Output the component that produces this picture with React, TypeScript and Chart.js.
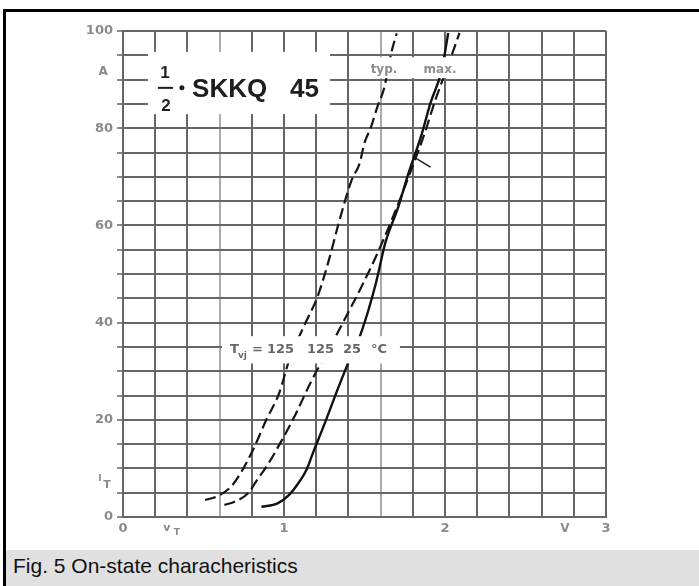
import React, { useEffect, useRef } from 'react';
import { Chart, registerables } from 'chart.js';

Chart.register(...registerables);

// On-state voltage v_T (V) and on-state current I_T (A)
const typ125V = [0.51, 0.58, 0.67, 0.73, 0.81, 0.89, 0.97, 1.03, 1.12, 1.21, 1.28, 1.34, 1.42, 1.47, 1.50, 1.54, 1.58, 1.62, 1.67, 1.70];
const typ125I = [3.5, 4.2, 6.2, 9.0, 14.0, 20.0, 25.5, 32.0, 39.0, 45.5, 53.0, 60.5, 69.3, 72.8, 77.0, 80.2, 84.4, 88.0, 96.0, 99.5];

const max125V = [0.63, 0.69, 0.78, 0.83, 0.89, 0.98, 1.07, 1.17, 1.27, 1.35, 1.48, 1.57, 1.68, 1.79, 1.87, 1.94, 2.02, 2.09];
const max125I = [2.5, 3.1, 5.0, 7.5, 10.3, 15.4, 21.0, 28.0, 34.0, 39.0, 47.3, 53.5, 62.0, 71.4, 78.6, 85.8, 93.0, 99.6];

const max25V = [0.86, 0.96, 1.03, 1.09, 1.14, 1.18, 1.25, 1.33, 1.39, 1.48, 1.57, 1.63, 1.71, 1.77, 1.85, 1.91, 1.98, 2.02];
const max25I = [2.1, 2.8, 4.5, 7.0, 9.7, 13.2, 19.0, 26.0, 31.0, 38.0, 48.0, 56.5, 63.8, 70.4, 78.2, 85.2, 92.0, 99.6];

const pointerV = [1.81, 1.91];
const pointerI = [74.0, 72.0];

const xLabelValues = [0, 1, 2, 3];
const xLabelTexts = ['0', '1', '2', '3'];
const yLabelValues = [0, 20, 40, 60, 80, 100];
const yLabelTexts = ['0', '20', '40', '60', '80', '100'];
const lightXGrid = [0.6, 1.6];

const toPoints = (xs: number[], ys: number[]) => xs.map((v, i) => ({ x: v, y: ys[i] }));
const labelFor = (vals: number[], texts: string[], v: number) => {
  const k = vals.findIndex((q) => Math.abs(q - v) < 1e-6);
  return k >= 0 ? texts[k] : '';
};

const GRID = '#666666';
const LABEL = '#8a8a8a';

const annotations = {
  id: 'annotations',
  afterDatasetsDraw(chart: any) {
    const { ctx } = chart;
    const xs = chart.scales.x;
    const ys = chart.scales.y;
    const px = (v: number) => xs.getPixelForValue(v);
    const py = (i: number) => ys.getPixelForValue(i);
    const box = (v1: number, i1: number, v2: number, i2: number) => {
      ctx.fillStyle = '#ffffff';
      ctx.fillRect(px(v1), py(i1), px(v2) - px(v1), py(i2) - py(i1));
    };
    const text = (s: string, v: number, i: number, font: string, color: string, align: CanvasTextAlign = 'left') => {
      ctx.font = font;
      ctx.fillStyle = color;
      ctx.textAlign = align;
      ctx.textBaseline = 'alphabetic';
      ctx.fillText(s, px(v), py(i));
    };
    ctx.save();
    // white label boxes
    box(0.155, 95.7, 1.286, 82.9);
    box(1.491, 94.6, 2.106, 90.3);
    box(0.615, 37.2, 1.72, 31.6);

    // title 1/2 · SKKQ 45
    const dark = '#1e1e1e';
    text('1', 0.261, 90.3, 'bold 17px "Liberation Sans", Arial, sans-serif', dark, 'center');
    ctx.strokeStyle = dark;
    ctx.lineWidth = 2;
    ctx.beginPath();
    ctx.moveTo(px(0.217), py(88.3));
    ctx.lineTo(px(0.311), py(88.3));
    ctx.stroke();
    text('2', 0.267, 83.5, 'bold 17px "Liberation Sans", Arial, sans-serif', dark, 'center');
    ctx.fillStyle = dark;
    ctx.beginPath();
    ctx.arc(px(0.366), py(88.3), 2.5, 0, Math.PI * 2);
    ctx.fill();
    text('SKKQ', 0.429, 86.4, 'bold 26px "Liberation Sans", Arial, sans-serif', dark);
    text('45', 1.037, 86.4, 'bold 26px "Liberation Sans", Arial, sans-serif', dark);

    // typ. / max.
    text('typ.', 1.621, 91.4, 'bold 12px "DejaVu Sans", sans-serif', '#8c8c8c', 'center');
    text('max.', 1.969, 91.4, 'bold 12px "DejaVu Sans", sans-serif', '#8c8c8c', 'center');

    // T_vj = 125 125 25 °C
    const tcol = '#676767';
    const tf = 'bold 13px "DejaVu Sans", sans-serif';
    text('T', 0.665, 33.7, tf, tcol);
    text('vj', 0.714, 32.7, 'bold 9px "DejaVu Sans", sans-serif', tcol);
    text('=', 0.801, 33.7, tf, tcol);
    text('125', 0.894, 33.7, tf, tcol);
    text('125', 1.143, 33.7, tf, tcol);
    text('25', 1.366, 33.7, tf, tcol);
    text('°C', 1.54, 33.7, tf, tcol);

    // axis units / symbols
    const af = 'bold 12px "DejaVu Sans", sans-serif';
    text('A', -0.124, 90.9, af, LABEL, 'center');
    text('I', -0.143, 7.4, 'bold 9px "DejaVu Sans", sans-serif', LABEL, 'center');
    text('T', -0.099, 6.0, 'bold 11px "DejaVu Sans", sans-serif', LABEL, 'center');
    text('v', 0.273, -2.9, 'bold 11px "DejaVu Sans", sans-serif', LABEL, 'center');
    text('T', 0.335, -3.7, 'bold 9px "DejaVu Sans", sans-serif', LABEL, 'center');
    text('V', 2.745, -3.1, af, LABEL, 'center');
    ctx.restore();
  },
};

export default function App() {
  const ref = useRef<HTMLCanvasElement | null>(null);

  useEffect(() => {
    if (!ref.current) return;
    const tickFont = { family: '"DejaVu Sans", sans-serif', size: 13, weight: 'bold' as const };
    const chart = new Chart(ref.current, {
      type: 'line',
      data: {
        datasets: [
          {
            label: 'typ. 125 °C',
            data: toPoints(typ125V, typ125I),
            borderColor: '#151515',
            borderWidth: 2.2,
            borderDash: [11, 5],
            cubicInterpolationMode: 'monotone',
            pointRadius: 0,
          },
          {
            label: 'max. 125 °C',
            data: toPoints(max125V, max125I),
            borderColor: '#151515',
            borderWidth: 2.2,
            borderDash: [11, 5],
            cubicInterpolationMode: 'monotone',
            pointRadius: 0,
          },
          {
            label: 'max. 25 °C',
            data: toPoints(max25V, max25I),
            borderColor: '#111111',
            borderWidth: 2.4,
            cubicInterpolationMode: 'monotone',
            pointRadius: 0,
          },
          {
            label: 'pointer',
            data: toPoints(pointerV, pointerI),
            borderColor: '#222222',
            borderWidth: 1.6,
            pointRadius: 0,
          },
        ],
      },
      options: {
        animation: false,
        responsive: false,
        maintainAspectRatio: false,
        layout: { padding: { top: 19, right: 93, left: 0, bottom: 0 } },
        plugins: { legend: { display: false }, tooltip: { enabled: false } },
        elements: { point: { radius: 0 } },
        scales: {
          x: {
            type: 'linear',
            min: 0,
            max: 3,
            afterFit: (s: any) => {
              s.height = 33;
            },
            ticks: {
              stepSize: 0.2,
              autoSkip: false,
              maxRotation: 0,
              padding: 4,
              color: LABEL,
              font: tickFont,
              callback: (v: any) => labelFor(xLabelValues, xLabelTexts, Number(v)),
            },
            grid: {
              color: (c: any) =>
                c.tick && lightXGrid.some((q) => Math.abs(q - c.tick.value) < 1e-6) ? '#ababab' : GRID,
              lineWidth: 2,
              drawTicks: false,
            },
            border: { color: GRID, width: 2 },
          },
          y: {
            type: 'linear',
            min: 0,
            max: 100,
            afterFit: (s: any) => {
              s.width = 117;
            },
            ticks: {
              stepSize: 5,
              autoSkip: false,
              padding: 4,
              color: LABEL,
              font: tickFont,
              callback: (v: any) => labelFor(yLabelValues, yLabelTexts, Number(v)),
            },
            grid: {
              color: GRID,
              lineWidth: 2,
              drawTicks: true,
              tickLength: 6,
              tickColor: '#8a8a8a',
              tickWidth: 2,
            },
            border: { color: GRID, width: 2 },
          },
        },
      },
      plugins: [annotations],
    } as any);
    return () => chart.destroy();
  }, []);

  return (
    <div
      style={{
        position: 'fixed',
        left: 0,
        top: 0,
        width: 699,
        height: 586,
        background: '#ffffff',
        overflow: 'hidden',
      }}
    >
      <div style={{ position: 'absolute', left: 3, top: 9, width: 696, height: 3, background: '#000' }} />
      <div style={{ position: 'absolute', left: 3, top: 9, width: 3, height: 577, background: '#000' }} />
      <canvas
        ref={ref}
        width={693}
        height={538}
        style={{ position: 'absolute', left: 6, top: 12, width: 693, height: 538 }}
      />
      <div
        style={{
          position: 'absolute',
          left: 6,
          top: 550,
          width: 693,
          height: 36,
          background: '#e0e0e0',
        }}
      >
        <span
          style={{
            position: 'absolute',
            left: 7,
            top: 5,
            lineHeight: '21px',
            fontSize: 21,
            fontFamily: '"Liberation Sans", Arial, sans-serif',
            color: '#111',
            whiteSpace: 'nowrap',
          }}
        >
          Fig. 5 On-state characheristics
        </span>
      </div>
    </div>
  );
}
